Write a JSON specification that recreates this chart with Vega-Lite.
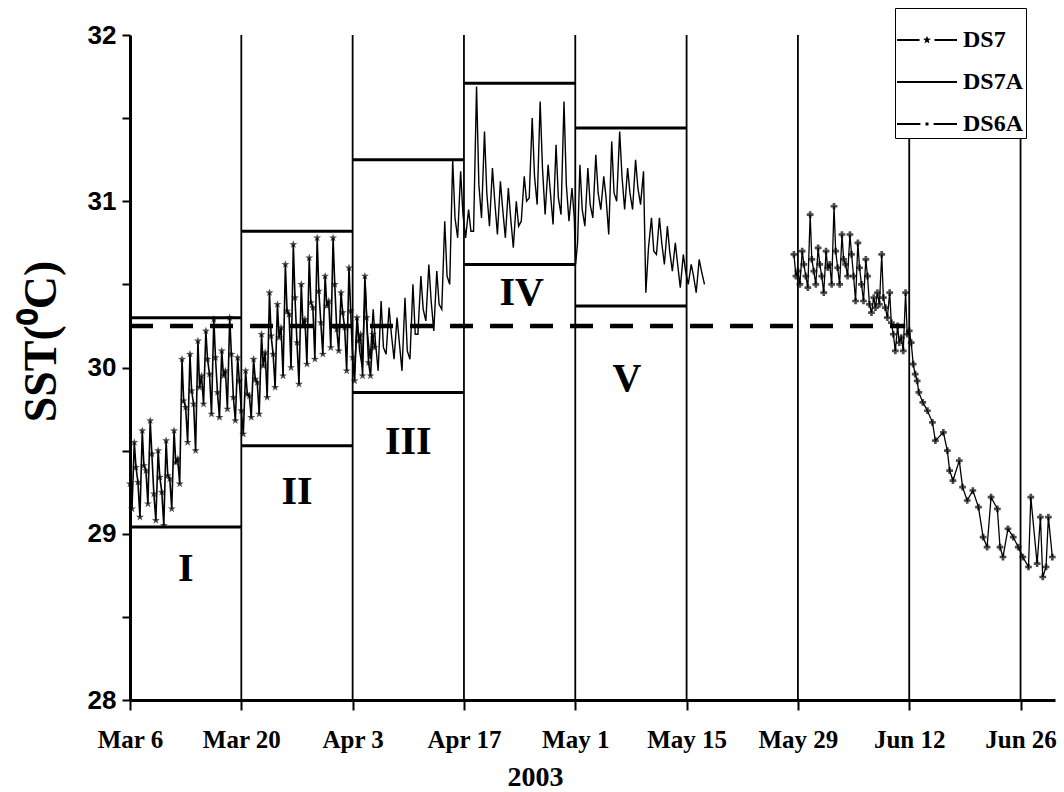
{
"$schema": "https://vega.github.io/schema/vega-lite/v6.json",
"width": 925, "height": 665,
"autosize": {"type": "none"},
"padding": {"left": 130, "top": 35, "right": 9, "bottom": 92},
"background": "white",
"config": {"view": {"stroke": null}, "legend": {"labelFont": "Liberation Serif", "labelFontWeight": "bold"}},
"datasets": {
"vl": [{"t":"2003-03-20T00:00"},{"t":"2003-04-03T00:00"},{"t":"2003-04-17T00:00"},{"t":"2003-05-01T00:00"},{"t":"2003-05-15T00:00"},{"t":"2003-05-29T00:00"},{"t":"2003-06-12T00:00"},{"t":"2003-06-26T00:00"}],
"box": [
{"t":"2003-03-06T00:00","t2":"2003-03-20T00:00","v":30.30},{"t":"2003-03-06T00:00","t2":"2003-03-20T00:00","v":29.04},
{"t":"2003-03-20T00:00","t2":"2003-04-03T00:00","v":30.82},{"t":"2003-03-20T00:00","t2":"2003-04-03T00:00","v":29.53},
{"t":"2003-04-03T00:00","t2":"2003-04-17T00:00","v":31.25},{"t":"2003-04-03T00:00","t2":"2003-04-17T00:00","v":29.85},
{"t":"2003-04-17T00:00","t2":"2003-05-01T00:00","v":31.71},{"t":"2003-04-17T00:00","t2":"2003-05-01T00:00","v":30.62},
{"t":"2003-05-01T00:00","t2":"2003-05-15T00:00","v":31.44},{"t":"2003-05-01T00:00","t2":"2003-05-15T00:00","v":30.37}],
"dash": [{"t":"2003-03-06T00:00","t2":"2003-06-11T12:00","v":30.25}],
"lab": [{"t":"2003-03-13T00:00","v":28.79,"lab":"I"},{"t":"2003-03-27T00:00","v":29.25,"lab":"II"},{"t":"2003-04-10T00:00","v":29.55,"lab":"III"},{"t":"2003-04-24T06:00","v":30.45,"lab":"IV"},{"t":"2003-05-07T12:00","v":29.93,"lab":"V"}],
"sst": [
{"s":"DS7","t":"2003-03-06T00:00","v":29.30},{"s":"DS7","t":"2003-03-06T06:00","v":29.15},{"s":"DS7","t":"2003-03-06T13:00","v":29.55},{"s":"DS7","t":"2003-03-06T18:00","v":29.40},
{"s":"DS7","t":"2003-03-07T00:00","v":29.31},{"s":"DS7","t":"2003-03-07T06:00","v":29.10},{"s":"DS7","t":"2003-03-07T13:00","v":29.62},{"s":"DS7","t":"2003-03-07T18:00","v":29.41},
{"s":"DS7","t":"2003-03-08T00:00","v":29.38},{"s":"DS7","t":"2003-03-08T06:00","v":29.18},{"s":"DS7","t":"2003-03-08T13:00","v":29.68},{"s":"DS7","t":"2003-03-08T18:00","v":29.48},
{"s":"DS7","t":"2003-03-09T00:00","v":29.24},{"s":"DS7","t":"2003-03-09T06:00","v":29.08},{"s":"DS7","t":"2003-03-09T13:00","v":29.50},{"s":"DS7","t":"2003-03-09T18:00","v":29.34},
{"s":"DS7","t":"2003-03-10T00:00","v":29.25},{"s":"DS7","t":"2003-03-10T06:00","v":29.05},{"s":"DS7","t":"2003-03-10T13:00","v":29.56},{"s":"DS7","t":"2003-03-10T18:00","v":29.35},
{"s":"DS7","t":"2003-03-11T00:00","v":29.33},{"s":"DS7","t":"2003-03-11T06:00","v":29.15},{"s":"DS7","t":"2003-03-11T13:00","v":29.62},{"s":"DS7","t":"2003-03-11T18:00","v":29.43},
{"s":"DS7","t":"2003-03-12T00:00","v":29.45},{"s":"DS7","t":"2003-03-12T06:00","v":29.30},{"s":"DS7","t":"2003-03-12T13:00","v":30.05},{"s":"DS7","t":"2003-03-12T18:00","v":29.80},
{"s":"DS7","t":"2003-03-13T00:00","v":29.76},{"s":"DS7","t":"2003-03-13T06:00","v":29.55},{"s":"DS7","t":"2003-03-13T13:00","v":30.08},{"s":"DS7","t":"2003-03-13T18:00","v":29.86},
{"s":"DS7","t":"2003-03-14T00:00","v":29.78},{"s":"DS7","t":"2003-03-14T06:00","v":29.50},{"s":"DS7","t":"2003-03-14T13:00","v":30.16},{"s":"DS7","t":"2003-03-14T18:00","v":29.88},
{"s":"DS7","t":"2003-03-15T00:00","v":29.95},{"s":"DS7","t":"2003-03-15T06:00","v":29.78},{"s":"DS7","t":"2003-03-15T13:00","v":30.22},{"s":"DS7","t":"2003-03-15T18:00","v":30.05},
{"s":"DS7","t":"2003-03-16T00:00","v":29.96},{"s":"DS7","t":"2003-03-16T06:00","v":29.72},{"s":"DS7","t":"2003-03-16T13:00","v":30.29},{"s":"DS7","t":"2003-03-16T18:00","v":30.06},
{"s":"DS7","t":"2003-03-17T00:00","v":29.85},{"s":"DS7","t":"2003-03-17T06:00","v":29.70},{"s":"DS7","t":"2003-03-17T13:00","v":30.10},{"s":"DS7","t":"2003-03-17T18:00","v":29.95},
{"s":"DS7","t":"2003-03-18T00:00","v":29.98},{"s":"DS7","t":"2003-03-18T06:00","v":29.75},{"s":"DS7","t":"2003-03-18T13:00","v":30.30},{"s":"DS7","t":"2003-03-18T18:00","v":30.08},
{"s":"DS7","t":"2003-03-19T00:00","v":29.82},{"s":"DS7","t":"2003-03-19T06:00","v":29.68},{"s":"DS7","t":"2003-03-19T13:00","v":30.06},{"s":"DS7","t":"2003-03-19T18:00","v":29.92},
{"s":"DS7","t":"2003-03-20T00:00","v":29.74},{"s":"DS7","t":"2003-03-20T06:00","v":29.60},{"s":"DS7","t":"2003-03-20T13:00","v":29.98},{"s":"DS7","t":"2003-03-20T18:00","v":29.84},
{"s":"DS7","t":"2003-03-21T00:00","v":29.83},{"s":"DS7","t":"2003-03-21T06:00","v":29.70},{"s":"DS7","t":"2003-03-21T13:00","v":30.05},{"s":"DS7","t":"2003-03-21T18:00","v":29.93},
{"s":"DS7","t":"2003-03-22T00:00","v":29.91},{"s":"DS7","t":"2003-03-22T06:00","v":29.72},{"s":"DS7","t":"2003-03-22T13:00","v":30.20},{"s":"DS7","t":"2003-03-22T18:00","v":30.01},
{"s":"DS7","t":"2003-03-23T00:00","v":30.09},{"s":"DS7","t":"2003-03-23T06:00","v":29.82},{"s":"DS7","t":"2003-03-23T13:00","v":30.45},{"s":"DS7","t":"2003-03-23T18:00","v":30.19},
{"s":"DS7","t":"2003-03-24T00:00","v":30.08},{"s":"DS7","t":"2003-03-24T06:00","v":29.88},{"s":"DS7","t":"2003-03-24T13:00","v":30.38},{"s":"DS7","t":"2003-03-24T18:00","v":30.18},
{"s":"DS7","t":"2003-03-25T00:00","v":30.24},{"s":"DS7","t":"2003-03-25T06:00","v":29.95},{"s":"DS7","t":"2003-03-25T13:00","v":30.62},{"s":"DS7","t":"2003-03-25T18:00","v":30.34},
{"s":"DS7","t":"2003-03-26T00:00","v":30.32},{"s":"DS7","t":"2003-03-26T06:00","v":30.00},{"s":"DS7","t":"2003-03-26T13:00","v":30.74},{"s":"DS7","t":"2003-03-26T18:00","v":30.42},
{"s":"DS7","t":"2003-03-27T00:00","v":30.15},{"s":"DS7","t":"2003-03-27T06:00","v":29.90},{"s":"DS7","t":"2003-03-27T13:00","v":30.50},{"s":"DS7","t":"2003-03-27T18:00","v":30.25},
{"s":"DS7","t":"2003-03-28T00:00","v":30.29},{"s":"DS7","t":"2003-03-28T06:00","v":30.02},{"s":"DS7","t":"2003-03-28T13:00","v":30.66},{"s":"DS7","t":"2003-03-28T18:00","v":30.39},
{"s":"DS7","t":"2003-03-29T00:00","v":30.36},{"s":"DS7","t":"2003-03-29T06:00","v":30.05},{"s":"DS7","t":"2003-03-29T13:00","v":30.78},{"s":"DS7","t":"2003-03-29T18:00","v":30.46},
{"s":"DS7","t":"2003-03-30T00:00","v":30.27},{"s":"DS7","t":"2003-03-30T06:00","v":30.08},{"s":"DS7","t":"2003-03-30T13:00","v":30.55},{"s":"DS7","t":"2003-03-30T18:00","v":30.37},
{"s":"DS7","t":"2003-03-31T00:00","v":30.40},{"s":"DS7","t":"2003-03-31T06:00","v":30.12},{"s":"DS7","t":"2003-03-31T13:00","v":30.78},{"s":"DS7","t":"2003-03-31T18:00","v":30.50},
{"s":"DS7","t":"2003-04-01T00:00","v":30.23},{"s":"DS7","t":"2003-04-01T06:00","v":30.10},{"s":"DS7","t":"2003-04-01T13:00","v":30.45},{"s":"DS7","t":"2003-04-01T18:00","v":30.33},
{"s":"DS7","t":"2003-04-02T00:00","v":30.24},{"s":"DS7","t":"2003-04-02T06:00","v":29.98},{"s":"DS7","t":"2003-04-02T13:00","v":30.60},{"s":"DS7","t":"2003-04-02T18:00","v":30.34},
{"s":"DS7","t":"2003-04-03T00:00","v":30.06},{"s":"DS7","t":"2003-04-03T06:00","v":29.92},{"s":"DS7","t":"2003-04-03T13:00","v":30.30},{"s":"DS7","t":"2003-04-03T18:00","v":30.16},
{"s":"DS7","t":"2003-04-04T00:00","v":30.20},{"s":"DS7","t":"2003-04-04T06:00","v":29.95},{"s":"DS7","t":"2003-04-04T13:00","v":30.55},{"s":"DS7","t":"2003-04-04T18:00","v":30.30},
{"s":"DS7","t":"2003-04-05T00:00","v":30.03},{"s":"DS7","t":"2003-04-05T06:00","v":29.95},{"s":"DS7","t":"2003-04-05T13:00","v":30.20},{"s":"DS7","t":"2003-04-05T18:00","v":30.12},
{"s":"DS7A","t":"2003-04-03T05:00","v":29.95},{"s":"DS7A","t":"2003-04-03T14:00","v":30.30},{"s":"DS7A","t":"2003-04-03T21:00","v":30.10},
{"s":"DS7A","t":"2003-04-04T05:00","v":30.00},{"s":"DS7A","t":"2003-04-04T14:00","v":30.50},{"s":"DS7A","t":"2003-04-04T21:00","v":30.20},
{"s":"DS7A","t":"2003-04-05T05:00","v":30.05},{"s":"DS7A","t":"2003-04-05T14:00","v":30.35},{"s":"DS7A","t":"2003-04-05T21:00","v":30.15},
{"s":"DS7A","t":"2003-04-06T05:00","v":29.98},{"s":"DS7A","t":"2003-04-06T14:00","v":30.40},{"s":"DS7A","t":"2003-04-06T21:00","v":30.12},
{"s":"DS7A","t":"2003-04-07T05:00","v":30.08},{"s":"DS7A","t":"2003-04-07T14:00","v":30.36},{"s":"DS7A","t":"2003-04-07T21:00","v":30.20},
{"s":"DS7A","t":"2003-04-08T05:00","v":30.05},{"s":"DS7A","t":"2003-04-08T14:00","v":30.30},{"s":"DS7A","t":"2003-04-08T21:00","v":30.15},
{"s":"DS7A","t":"2003-04-09T05:00","v":29.98},{"s":"DS7A","t":"2003-04-09T14:00","v":30.42},{"s":"DS7A","t":"2003-04-09T21:00","v":30.10},
{"s":"DS7A","t":"2003-04-10T05:00","v":30.05},{"s":"DS7A","t":"2003-04-10T14:00","v":30.50},{"s":"DS7A","t":"2003-04-10T21:00","v":30.20},
{"s":"DS7A","t":"2003-04-11T05:00","v":30.20},{"s":"DS7A","t":"2003-04-11T14:00","v":30.55},{"s":"DS7A","t":"2003-04-11T21:00","v":30.35},
{"s":"DS7A","t":"2003-04-12T05:00","v":30.28},{"s":"DS7A","t":"2003-04-12T14:00","v":30.62},{"s":"DS7A","t":"2003-04-12T21:00","v":30.40},
{"s":"DS7A","t":"2003-04-13T05:00","v":30.22},{"s":"DS7A","t":"2003-04-13T14:00","v":30.58},{"s":"DS7A","t":"2003-04-13T21:00","v":30.38},
{"s":"DS7A","t":"2003-04-14T05:00","v":30.35},{"s":"DS7A","t":"2003-04-14T14:00","v":30.88},{"s":"DS7A","t":"2003-04-14T21:00","v":30.55},
{"s":"DS7A","t":"2003-04-15T05:00","v":30.50},{"s":"DS7A","t":"2003-04-15T14:00","v":31.25},{"s":"DS7A","t":"2003-04-15T21:00","v":30.90},
{"s":"DS7A","t":"2003-04-16T05:00","v":30.78},{"s":"DS7A","t":"2003-04-16T14:00","v":31.18},{"s":"DS7A","t":"2003-04-16T21:00","v":30.92},
{"s":"DS7A","t":"2003-04-17T05:00","v":30.78},{"s":"DS7A","t":"2003-04-17T14:00","v":30.95},{"s":"DS7A","t":"2003-04-17T21:00","v":30.82},
{"s":"DS7A","t":"2003-04-18T05:00","v":30.82},{"s":"DS7A","t":"2003-04-18T14:00","v":31.69},{"s":"DS7A","t":"2003-04-18T21:00","v":31.10},
{"s":"DS7A","t":"2003-04-19T05:00","v":30.90},{"s":"DS7A","t":"2003-04-19T14:00","v":31.42},{"s":"DS7A","t":"2003-04-19T21:00","v":31.05},
{"s":"DS7A","t":"2003-04-20T05:00","v":30.85},{"s":"DS7A","t":"2003-04-20T14:00","v":31.20},{"s":"DS7A","t":"2003-04-20T21:00","v":31.00},
{"s":"DS7A","t":"2003-04-21T05:00","v":30.80},{"s":"DS7A","t":"2003-04-21T14:00","v":31.12},{"s":"DS7A","t":"2003-04-21T21:00","v":30.95},
{"s":"DS7A","t":"2003-04-22T05:00","v":30.78},{"s":"DS7A","t":"2003-04-22T14:00","v":31.08},{"s":"DS7A","t":"2003-04-22T21:00","v":30.90},
{"s":"DS7A","t":"2003-04-23T05:00","v":30.72},{"s":"DS7A","t":"2003-04-23T14:00","v":31.00},{"s":"DS7A","t":"2003-04-23T21:00","v":30.85},
{"s":"DS7A","t":"2003-04-24T05:00","v":30.88},{"s":"DS7A","t":"2003-04-24T14:00","v":31.15},{"s":"DS7A","t":"2003-04-24T21:00","v":31.00},
{"s":"DS7A","t":"2003-04-25T05:00","v":31.02},{"s":"DS7A","t":"2003-04-25T14:00","v":31.50},{"s":"DS7A","t":"2003-04-25T21:00","v":31.15},
{"s":"DS7A","t":"2003-04-26T05:00","v":30.98},{"s":"DS7A","t":"2003-04-26T14:00","v":31.60},{"s":"DS7A","t":"2003-04-26T21:00","v":31.20},
{"s":"DS7A","t":"2003-04-27T05:00","v":30.92},{"s":"DS7A","t":"2003-04-27T14:00","v":31.22},{"s":"DS7A","t":"2003-04-27T21:00","v":31.05},
{"s":"DS7A","t":"2003-04-28T05:00","v":30.86},{"s":"DS7A","t":"2003-04-28T14:00","v":31.34},{"s":"DS7A","t":"2003-04-28T21:00","v":31.02},
{"s":"DS7A","t":"2003-04-29T05:00","v":30.92},{"s":"DS7A","t":"2003-04-29T14:00","v":31.60},{"s":"DS7A","t":"2003-04-29T21:00","v":31.10},
{"s":"DS7A","t":"2003-04-30T05:00","v":30.88},{"s":"DS7A","t":"2003-04-30T14:00","v":31.08},{"s":"DS7A","t":"2003-04-30T21:00","v":30.90},
{"s":"DS7A","t":"2003-05-01T01:00","v":30.62},{"s":"DS7A","t":"2003-05-01T07:00","v":30.75},{"s":"DS7A","t":"2003-05-01T14:00","v":31.22},{"s":"DS7A","t":"2003-05-01T21:00","v":30.95},
{"s":"DS7A","t":"2003-05-02T05:00","v":30.85},{"s":"DS7A","t":"2003-05-02T14:00","v":31.20},{"s":"DS7A","t":"2003-05-02T21:00","v":30.98},
{"s":"DS7A","t":"2003-05-03T05:00","v":30.90},{"s":"DS7A","t":"2003-05-03T14:00","v":31.28},{"s":"DS7A","t":"2003-05-03T21:00","v":31.05},
{"s":"DS7A","t":"2003-05-04T05:00","v":30.95},{"s":"DS7A","t":"2003-05-04T14:00","v":31.15},{"s":"DS7A","t":"2003-05-04T21:00","v":31.02},
{"s":"DS7A","t":"2003-05-05T05:00","v":30.80},{"s":"DS7A","t":"2003-05-05T14:00","v":31.36},{"s":"DS7A","t":"2003-05-05T21:00","v":31.05},
{"s":"DS7A","t":"2003-05-06T05:00","v":31.00},{"s":"DS7A","t":"2003-05-06T14:00","v":31.42},{"s":"DS7A","t":"2003-05-06T21:00","v":31.15},
{"s":"DS7A","t":"2003-05-07T05:00","v":30.95},{"s":"DS7A","t":"2003-05-07T14:00","v":31.20},{"s":"DS7A","t":"2003-05-07T21:00","v":31.05},
{"s":"DS7A","t":"2003-05-08T05:00","v":30.95},{"s":"DS7A","t":"2003-05-08T14:00","v":31.25},{"s":"DS7A","t":"2003-05-08T21:00","v":31.08},
{"s":"DS7A","t":"2003-05-09T05:00","v":30.98},{"s":"DS7A","t":"2003-05-09T14:00","v":31.18},{"s":"DS7A","t":"2003-05-09T21:00","v":30.45},
{"s":"DS7A","t":"2003-05-10T05:00","v":30.72},{"s":"DS7A","t":"2003-05-10T14:00","v":30.90},{"s":"DS7A","t":"2003-05-10T21:00","v":30.70},
{"s":"DS7A","t":"2003-05-11T05:00","v":30.68},{"s":"DS7A","t":"2003-05-11T14:00","v":30.90},{"s":"DS7A","t":"2003-05-11T21:00","v":30.75},
{"s":"DS7A","t":"2003-05-12T05:00","v":30.62},{"s":"DS7A","t":"2003-05-12T14:00","v":30.85},{"s":"DS7A","t":"2003-05-12T21:00","v":30.70},
{"s":"DS7A","t":"2003-05-13T05:00","v":30.58},{"s":"DS7A","t":"2003-05-13T14:00","v":30.75},{"s":"DS7A","t":"2003-05-13T21:00","v":30.62},
{"s":"DS7A","t":"2003-05-14T05:00","v":30.48},{"s":"DS7A","t":"2003-05-14T14:00","v":30.68},{"s":"DS7A","t":"2003-05-14T21:00","v":30.58},
{"s":"DS7A","t":"2003-05-15T05:00","v":30.50},{"s":"DS7A","t":"2003-05-15T14:00","v":30.62},{"s":"DS7A","t":"2003-05-15T21:00","v":30.55},
{"s":"DS7A","t":"2003-05-16T05:00","v":30.45},{"s":"DS7A","t":"2003-05-16T14:00","v":30.65},{"s":"DS7A","t":"2003-05-16T21:00","v":30.58},
{"s":"DS7A","t":"2003-05-17T06:00","v":30.50},
{"s":"DS6A","t":"2003-05-28T12:00","v":30.68},{"s":"DS6A","t":"2003-05-28T18:00","v":30.55},
{"s":"DS6A","t":"2003-05-29T00:00","v":30.58},{"s":"DS6A","t":"2003-05-29T06:00","v":30.50},{"s":"DS6A","t":"2003-05-29T13:00","v":30.70},{"s":"DS6A","t":"2003-05-29T18:00","v":30.62},
{"s":"DS6A","t":"2003-05-30T00:00","v":30.55},{"s":"DS6A","t":"2003-05-30T06:00","v":30.48},{"s":"DS6A","t":"2003-05-30T13:00","v":30.92},{"s":"DS6A","t":"2003-05-30T18:00","v":30.65},
{"s":"DS6A","t":"2003-05-31T00:00","v":30.58},{"s":"DS6A","t":"2003-05-31T06:00","v":30.50},{"s":"DS6A","t":"2003-05-31T13:00","v":30.72},{"s":"DS6A","t":"2003-05-31T18:00","v":30.62},
{"s":"DS6A","t":"2003-06-01T00:00","v":30.55},{"s":"DS6A","t":"2003-06-01T06:00","v":30.45},{"s":"DS6A","t":"2003-06-01T13:00","v":30.70},{"s":"DS6A","t":"2003-06-01T18:00","v":30.60},
{"s":"DS6A","t":"2003-06-02T00:00","v":30.62},{"s":"DS6A","t":"2003-06-02T06:00","v":30.50},{"s":"DS6A","t":"2003-06-02T13:00","v":30.97},{"s":"DS6A","t":"2003-06-02T18:00","v":30.70},
{"s":"DS6A","t":"2003-06-03T00:00","v":30.60},{"s":"DS6A","t":"2003-06-03T06:00","v":30.50},{"s":"DS6A","t":"2003-06-03T13:00","v":30.80},{"s":"DS6A","t":"2003-06-03T18:00","v":30.65},
{"s":"DS6A","t":"2003-06-04T00:00","v":30.62},{"s":"DS6A","t":"2003-06-04T06:00","v":30.55},{"s":"DS6A","t":"2003-06-04T13:00","v":30.80},{"s":"DS6A","t":"2003-06-04T18:00","v":30.68},
{"s":"DS6A","t":"2003-06-05T00:00","v":30.55},{"s":"DS6A","t":"2003-06-05T06:00","v":30.40},{"s":"DS6A","t":"2003-06-05T13:00","v":30.75},{"s":"DS6A","t":"2003-06-05T18:00","v":30.60},
{"s":"DS6A","t":"2003-06-06T00:00","v":30.50},{"s":"DS6A","t":"2003-06-06T06:00","v":30.40},{"s":"DS6A","t":"2003-06-06T13:00","v":30.65},{"s":"DS6A","t":"2003-06-06T18:00","v":30.55},
{"s":"DS6A","t":"2003-06-07T00:00","v":30.38},{"s":"DS6A","t":"2003-06-07T06:00","v":30.33},{"s":"DS6A","t":"2003-06-07T13:00","v":30.42},{"s":"DS6A","t":"2003-06-07T18:00","v":30.36},
{"s":"DS6A","t":"2003-06-08T00:00","v":30.45},{"s":"DS6A","t":"2003-06-08T06:00","v":30.38},{"s":"DS6A","t":"2003-06-08T13:00","v":30.68},{"s":"DS6A","t":"2003-06-08T18:00","v":30.42},
{"s":"DS6A","t":"2003-06-09T00:00","v":30.36},{"s":"DS6A","t":"2003-06-09T06:00","v":30.30},{"s":"DS6A","t":"2003-06-09T13:00","v":30.45},{"s":"DS6A","t":"2003-06-09T18:00","v":30.27},
{"s":"DS6A","t":"2003-06-10T00:00","v":30.20},{"s":"DS6A","t":"2003-06-10T06:00","v":30.10},{"s":"DS6A","t":"2003-06-10T13:00","v":30.25},{"s":"DS6A","t":"2003-06-10T18:00","v":30.15},
{"s":"DS6A","t":"2003-06-11T00:00","v":30.18},{"s":"DS6A","t":"2003-06-11T06:00","v":30.10},{"s":"DS6A","t":"2003-06-11T13:00","v":30.45},{"s":"DS6A","t":"2003-06-11T18:00","v":30.20},
{"s":"DS6A","t":"2003-06-12T00:00","v":30.22},{"s":"DS6A","t":"2003-06-12T06:00","v":30.15},{"s":"DS6A","t":"2003-06-12T12:00","v":30.02},{"s":"DS6A","t":"2003-06-12T18:00","v":29.96},
{"s":"DS6A","t":"2003-06-13T00:00","v":29.92},{"s":"DS6A","t":"2003-06-13T05:00","v":29.85},{"s":"DS6A","t":"2003-06-13T17:00","v":29.79},
{"s":"DS6A","t":"2003-06-14T07:00","v":29.74},{"s":"DS6A","t":"2003-06-14T22:00","v":29.67},{"s":"DS6A","t":"2003-06-15T07:00","v":29.56},
{"s":"DS6A","t":"2003-06-16T07:00","v":29.61},{"s":"DS6A","t":"2003-06-16T19:00","v":29.50},{"s":"DS6A","t":"2003-06-17T02:00","v":29.38},
{"s":"DS6A","t":"2003-06-17T12:00","v":29.32},{"s":"DS6A","t":"2003-06-18T07:00","v":29.44},{"s":"DS6A","t":"2003-06-18T17:00","v":29.28},
{"s":"DS6A","t":"2003-06-19T07:00","v":29.20},{"s":"DS6A","t":"2003-06-20T00:00","v":29.26},{"s":"DS6A","t":"2003-06-20T17:00","v":29.16},
{"s":"DS6A","t":"2003-06-21T07:00","v":28.98},{"s":"DS6A","t":"2003-06-21T19:00","v":28.92},{"s":"DS6A","t":"2003-06-22T07:00","v":29.22},
{"s":"DS6A","t":"2003-06-23T02:00","v":29.15},{"s":"DS6A","t":"2003-06-23T10:00","v":28.92},{"s":"DS6A","t":"2003-06-23T19:00","v":28.86},
{"s":"DS6A","t":"2003-06-24T10:00","v":29.03},{"s":"DS6A","t":"2003-06-25T02:00","v":28.98},{"s":"DS6A","t":"2003-06-25T17:00","v":28.92},
{"s":"DS6A","t":"2003-06-26T07:00","v":28.86},{"s":"DS6A","t":"2003-06-27T00:00","v":28.80},{"s":"DS6A","t":"2003-06-27T07:00","v":29.22},
{"s":"DS6A","t":"2003-06-28T02:00","v":28.82},{"s":"DS6A","t":"2003-06-28T12:00","v":29.10},{"s":"DS6A","t":"2003-06-28T19:00","v":28.74},
{"s":"DS6A","t":"2003-06-29T05:00","v":28.80},{"s":"DS6A","t":"2003-06-29T12:00","v":29.10},{"s":"DS6A","t":"2003-06-30T00:00","v":28.86}
]
},
"layer": [
{
 "data": {"name": "vl"},
 "mark": {"type": "rule", "color": "black", "strokeWidth": 1.8},
 "encoding": {
  "x": {"field": "t", "type": "temporal",
   "scale": {"domain": [{"year":2003,"month":3,"date":6},{"year":2003,"month":6,"date":30,"hours":8}]},
   "axis": {"values": [{"year":2003,"month":3,"date":6},{"year":2003,"month":3,"date":20},{"year":2003,"month":4,"date":3},{"year":2003,"month":4,"date":17},{"year":2003,"month":5,"date":1},{"year":2003,"month":5,"date":15},{"year":2003,"month":5,"date":29},{"year":2003,"month":6,"date":12},{"year":2003,"month":6,"date":26}],
    "format": "%b %-d", "title": "2003", "grid": false,
    "labelFont": "Liberation Serif", "labelFontWeight": "bold", "labelFontSize": 25, "labelColor": "black", "labelFlush": false, "labelOverlap": false, "labelPadding": 17,
    "tickColor": "black", "tickSize": 10, "tickWidth": 2, "domainColor": "black", "domainWidth": 3,
    "titleFont": "Liberation Serif", "titleFontWeight": "bold", "titleFontSize": 28, "titleColor": "black",
    "titleX": 405, "titleY": 63, "titleBaseline": "top", "titleAlign": "center"}}
 }
},
{
 "data": {"name": "box"},
 "mark": {"type": "rule", "color": "black", "strokeWidth": 3},
 "encoding": {
  "x": {"field": "t", "type": "temporal"},
  "x2": {"field": "t2"},
  "y": {"field": "v", "type": "quantitative",
   "scale": {"domain": [28, 32], "nice": false},
   "axis": {"values": [28,28.5,29,29.5,30,30.5,31,31.5,32], "labelExpr": "datum.value % 1 === 0 ? format(datum.value, 'd') : ''",
    "title": "SST(⁰C)", "grid": false,
    "labelFont": "Liberation Sans", "labelFontWeight": "bold", "labelFontSize": 26, "labelColor": "black", "labelPadding": 6, "labelOverlap": false, "labelFlush": false,
    "tickColor": "black", "tickSize": 8, "tickWidth": 2, "domainColor": "black", "domainWidth": 3,
    "titleFont": "Liberation Serif", "titleFontWeight": "bold", "titleFontSize": 46, "titleColor": "black", "titlePadding": 22, "titleY": 306}}
 }
},
{
 "data": {"name": "sst"},
 "transform": [{"filter": "datum.s === 'DS7'"}],
 "mark": {"type": "line", "color": "black", "strokeWidth": 1.6},
 "encoding": {
  "x": {"field": "t", "type": "temporal"},
  "y": {"field": "v", "type": "quantitative"}
 }
},
{
 "data": {"name": "sst"},
 "transform": [{"filter": "datum.s === 'DS7'"}],
 "mark": {"type": "point", "shape": "M0,-1L0.235,-0.324L0.951,-0.309L0.38,0.124L0.588,0.809L0,0.4L-0.588,0.809L-0.38,0.124L-0.951,-0.309L-0.235,-0.324Z", "filled": true, "color": "black", "size": 70},
 "encoding": {
  "x": {"field": "t", "type": "temporal"},
  "y": {"field": "v", "type": "quantitative"}
 }
},
{
 "data": {"name": "sst"},
 "transform": [{"filter": "datum.s === 'DS7A'"}],
 "mark": {"type": "line", "color": "black", "strokeWidth": 1.4},
 "encoding": {
  "x": {"field": "t", "type": "temporal"},
  "y": {"field": "v", "type": "quantitative"}
 }
},
{
 "data": {"name": "sst"},
 "transform": [{"filter": "datum.s === 'DS6A'"}],
 "mark": {"type": "line", "color": "black", "strokeWidth": 1.3},
 "encoding": {
  "x": {"field": "t", "type": "temporal"},
  "y": {"field": "v", "type": "quantitative"}
 }
},
{
 "data": {"name": "sst"},
 "transform": [{"filter": "datum.s === 'DS6A'"}],
 "mark": {"type": "point", "shape": "cross", "filled": true, "color": "black", "size": 45},
 "encoding": {
  "x": {"field": "t", "type": "temporal"},
  "y": {"field": "v", "type": "quantitative"}
 }
},
{
 "data": {"name": "dash"},
 "mark": {"type": "rule", "color": "black", "strokeWidth": 4.5, "strokeDash": [23, 17]},
 "encoding": {
  "x": {"field": "t", "type": "temporal"},
  "x2": {"field": "t2"},
  "y": {"field": "v", "type": "quantitative"}
 }
},
{
 "data": {"name": "lab"},
 "mark": {"type": "text", "font": "Liberation Serif", "fontWeight": "bold", "fontSize": 40, "color": "black", "align": "center", "baseline": "middle"},
 "encoding": {
  "x": {"field": "t", "type": "temporal"},
  "y": {"field": "v", "type": "quantitative"},
  "text": {"field": "lab"}
 }
},
{
 "data": {"name": "sst"},
 "mark": {"type": "point", "filled": true, "color": "black"},
 "encoding": {
  "x": {"field": "t", "type": "temporal"},
  "y": {"field": "v", "type": "quantitative"},
  "opacity": {"value": 0},
  "shape": {"field": "s", "type": "nominal",
   "scale": {"domain": ["DS7", "DS7A", "DS6A"],
    "range": ["M-1,-0.035L-0.25,-0.035L-0.25,0.035L-1,0.035ZM0.25,-0.035L1,-0.035L1,0.035L0.25,0.035ZM0,-0.14L0.034,-0.047L0.133,-0.043L0.055,0.018L0.082,0.113L0,0.056L-0.082,0.113L-0.055,0.018L-0.133,-0.043L-0.034,-0.047Z",
              "M-1,-0.035L1,-0.035L1,0.035L-1,0.035Z",
              "M-1,-0.035L-0.22,-0.035L-0.22,0.035L-1,0.035ZM0.22,-0.035L1,-0.035L1,0.035L0.22,0.035ZM-0.05,-0.05L0.05,-0.05L0.05,0.05L-0.05,0.05Z"]},
   "legend": {"title": null, "orient": "none", "legendX": 765, "legendY": -27,
    "strokeColor": "black", "fillColor": "white", "padding": 2, "rowPadding": -10,
    "symbolSize": 3600, "symbolStrokeWidth": 0, "symbolFillColor": "black", "symbolOpacity": 1,
    "labelFont": "Liberation Serif", "labelFontWeight": "bold", "labelFontSize": 24, "labelColor": "black", "labelOffset": 6,
    "encode": {"symbols": {"fill": {"value": "black"}, "opacity": {"value": 1}, "strokeWidth": {"value": 0}},
               "labels": {"font": {"value": "Liberation Serif"}, "fontWeight": {"value": "bold"}}}}}
 }
}
]
}
